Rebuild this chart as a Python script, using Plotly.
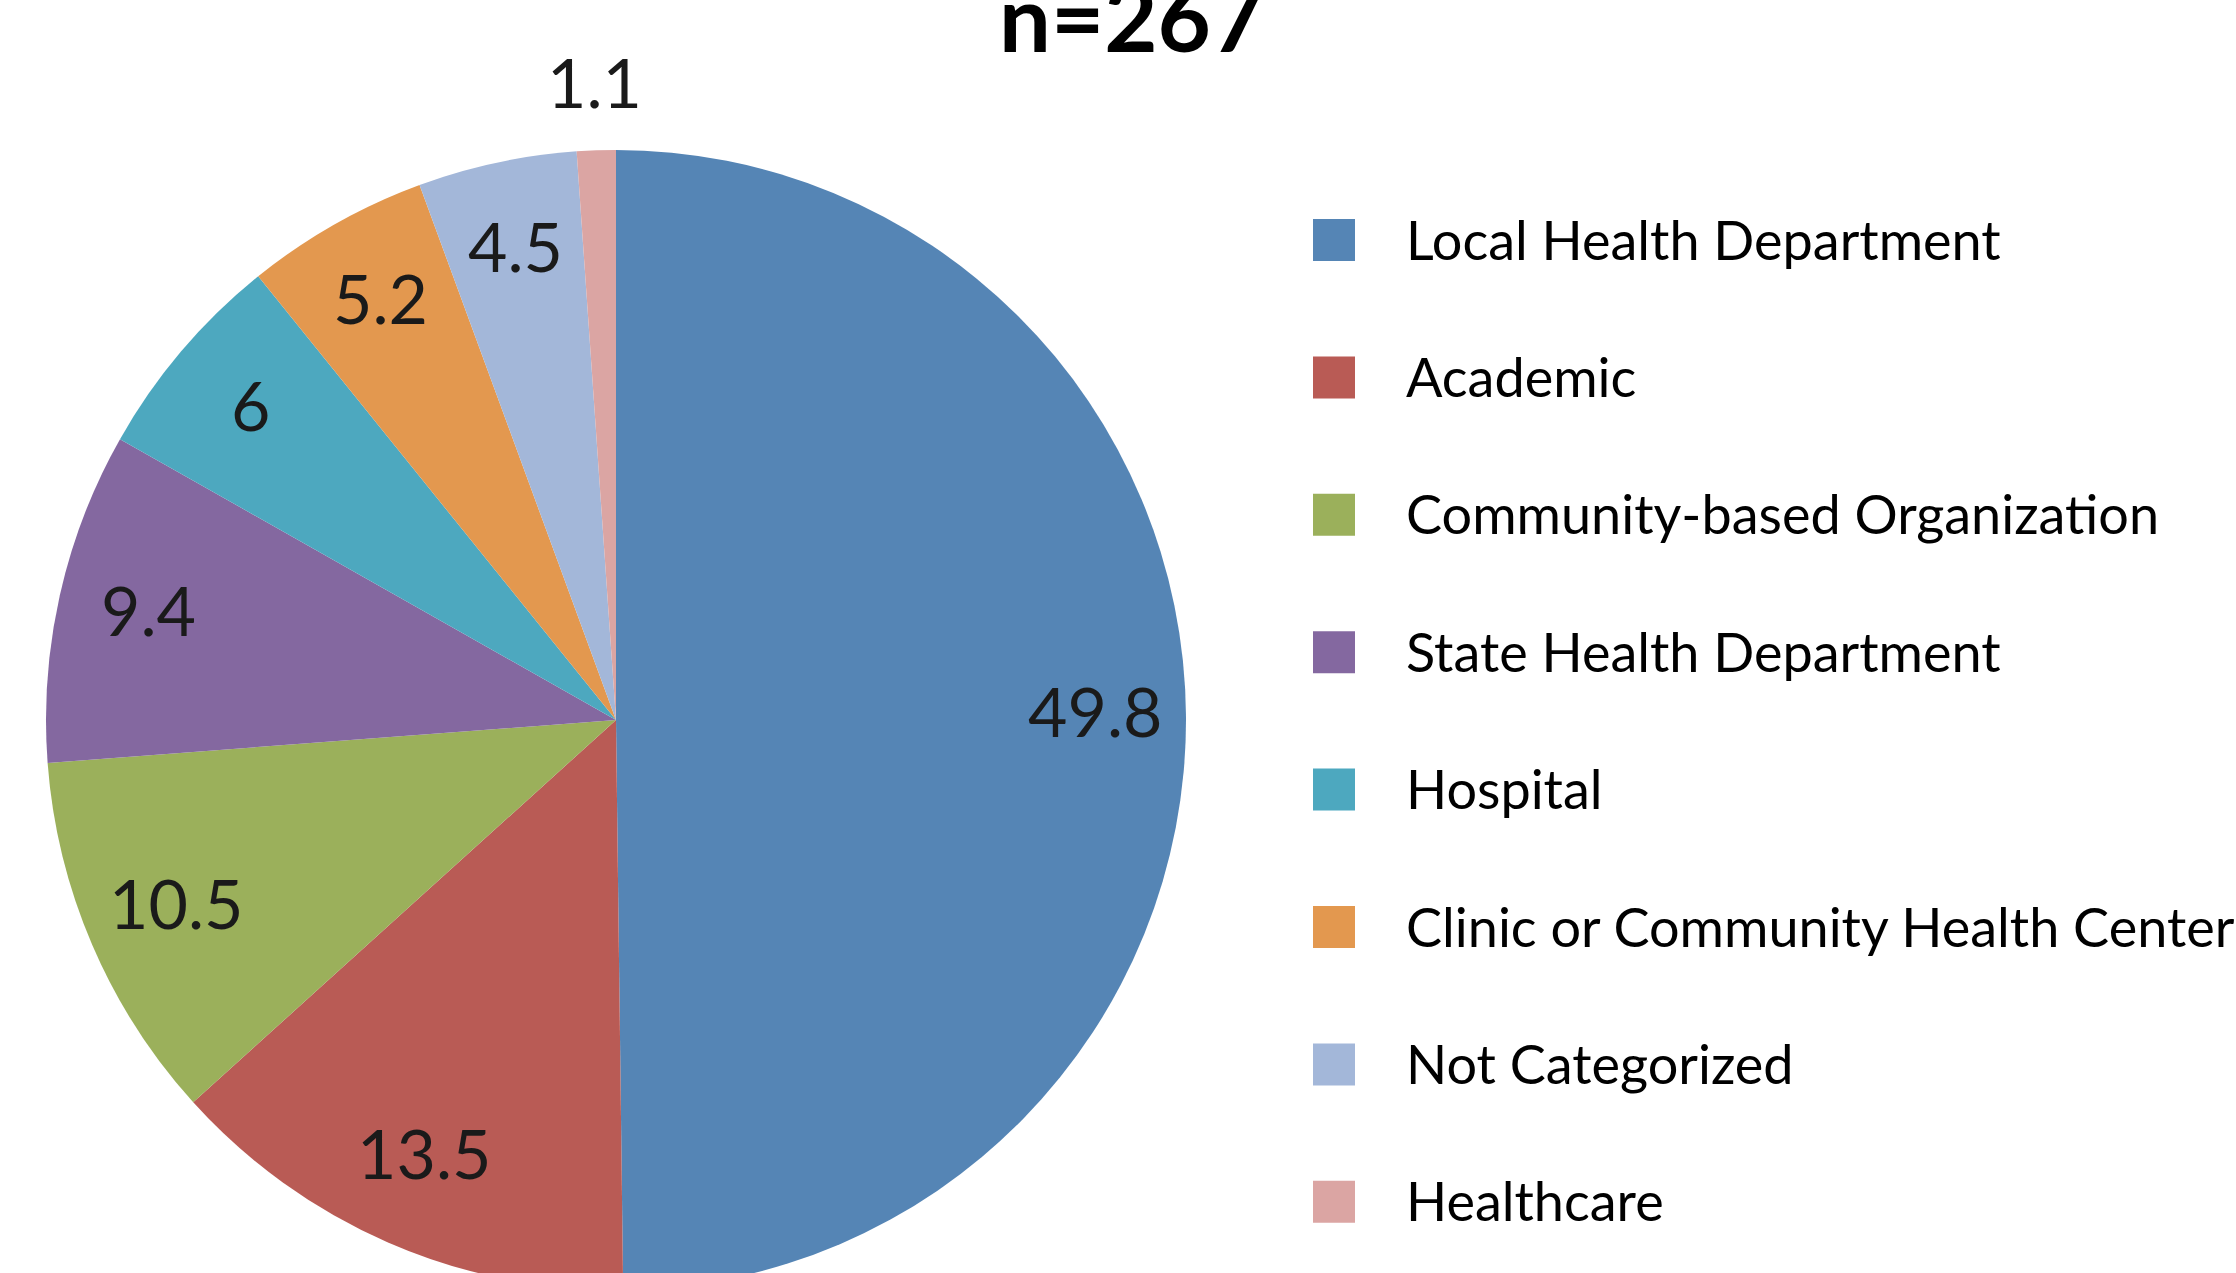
import math
import plotly.graph_objects as go

# ---- data ----
categories = [
    "Local Health Department",
    "Academic",
    "Community-based Organization",
    "State Health Department",
    "Hospital",
    "Clinic or Community Health Center",
    "Not Categorized",
    "Healthcare",
]
percentages = [49.8, 13.5, 10.5, 9.4, 6.0, 5.2, 4.5, 1.1]
value_labels = ["49.8", "13.5", "10.5", "9.4", "6", "5.2", "4.5", "1.1"]
colors = ["#5585B5", "#B95B55", "#9BB05B", "#8468A0", "#4DA8BF", "#E3984F", "#A3B7D9", "#DBA5A3"]
title_text = "n=267"

# ---- layout geometry (pixels) ----
W, H = 2236, 1300
FONT = "Lato, 'Open Sans', sans-serif"


def px_x(x):
    return x / W


def px_y(y):
    return (H - y) / H


pie_cx, pie_cy, pie_r = 616, 720, 570
pie_left, pie_right = pie_cx - pie_r, pie_cx + pie_r
pie_top, pie_bottom = pie_cy - pie_r, pie_cy + pie_r

fig = go.Figure()
fig.add_trace(go.Pie(
    labels=categories,
    values=percentages,
    textinfo="none",
    marker=dict(colors=colors, line=dict(width=0)),
    sort=False,
    direction="clockwise",
    rotation=0,
    showlegend=False,
    hoverinfo="label+value",
    domain=dict(x=[px_x(pie_left), px_x(pie_right)], y=[px_y(pie_bottom), px_y(pie_top)]),
))

shapes = []
annotations = []

# data labels: placed at each slice's mid angle (derived from the values)
total = sum(percentages)
cum = 0.0
inside_frac, outside_frac = 0.84, 1.11
text_dy = -6  # small upward nudge so digits sit centred on the anchor
for i, (v, lab) in enumerate(zip(percentages, value_labels)):
    mid = (cum + v / 2) / total * 2 * math.pi
    cum += v
    frac = outside_frac if v / total < 0.02 else inside_frac
    x = pie_cx + frac * pie_r * math.sin(mid)
    y = pie_cy - frac * pie_r * math.cos(mid) + text_dy
    annotations.append(dict(text=lab, xref="paper", yref="paper",
                            x=px_x(x), y=px_y(y), xanchor="center", yanchor="middle",
                            showarrow=False, font=dict(family=FONT, size=68, color="#1a1a1a")))

# legend
leg_y0, leg_step = 240, 137.4
sq = 42
sq_x0 = 1313
txt_x = 1404
for i, (lab, col) in enumerate(zip(categories, colors)):
    cy = leg_y0 + i * leg_step
    shapes.append(dict(type="rect", xref="paper", yref="paper",
                       x0=px_x(sq_x0), x1=px_x(sq_x0 + sq),
                       y0=px_y(cy + sq / 2), y1=px_y(cy - sq / 2),
                       fillcolor=col, line=dict(width=0)))
    annotations.append(dict(text=lab, xref="paper", yref="paper",
                            x=px_x(txt_x), y=px_y(cy - 1), xanchor="left", yanchor="middle",
                            showarrow=False, font=dict(family=FONT, size=54, color="#000000")))

annotations.append(dict(text="<b>" + title_text + "</b>", xref="paper", yref="paper",
                        x=px_x(1131), y=px_y(16), xanchor="center", yanchor="middle",
                        showarrow=False, font=dict(family=FONT, size=92, color="#000000")))

fig.update_layout(
    width=W, height=H,
    margin=dict(l=0, r=0, t=0, b=0),
    paper_bgcolor="white",
    plot_bgcolor="white",
    shapes=shapes,
    annotations=annotations,
    showlegend=False,
)

fig.write_html("out.html", config={"displayModeBar": False},
               post_script="document.body.style.margin='0';document.body.style.overflow='hidden';")
